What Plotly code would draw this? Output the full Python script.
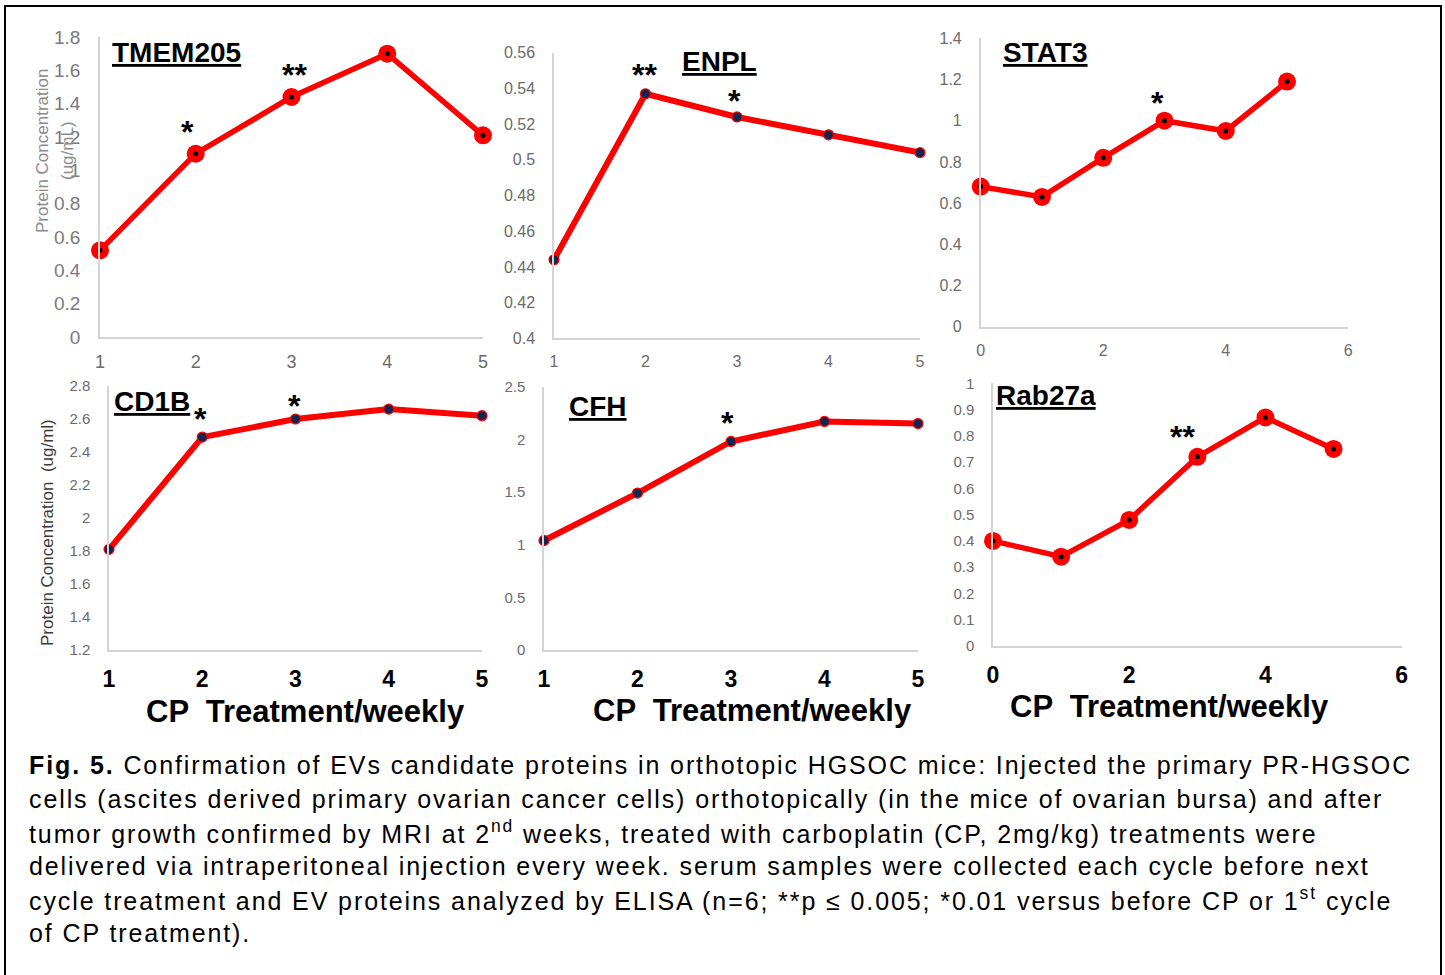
import plotly.graph_objects as go

W, H = 1445, 975

# ---------------- data ----------------
weeks_1to5 = [1, 2, 3, 4, 5]
weeks_0to5 = [0, 1, 2, 3, 4, 5]

tmem205 = [0.52, 1.10, 1.44, 1.70, 1.21]
enpl = [0.444, 0.537, 0.524, 0.514, 0.504]
stat3 = [0.68, 0.63, 0.82, 1.00, 0.95, 1.19]
cd1b = [1.81, 2.49, 2.60, 2.66, 2.62]
cfh = [1.04, 1.49, 1.98, 2.17, 2.15]
rab27a = [0.40, 0.34, 0.48, 0.72, 0.87, 0.75]

panel_names = ["TMEM205", "ENPL", "STAT3", "CD1B", "CFH", "Rab27a"]
x_title = "CP  Treatment/weekly"

caption_lines = [
    "<b>Fig. 5.</b> Confirmation of EVs candidate proteins in orthotopic HGSOC mice: Injected the primary PR-HGSOC",
    "cells (ascites derived primary ovarian cancer cells) orthotopically (in the mice of ovarian bursa) and after",
    "tumor growth confirmed by MRI at 2<sup>nd</sup> weeks, treated with carboplatin (CP, 2mg/kg) treatments were",
    "delivered via intraperitoneal injection every week. serum samples were collected each cycle before next",
    "cycle treatment and EV proteins analyzed by ELISA (n=6; **p \u2264 0.005; *0.01 versus before CP or 1<sup>st</sup> cycle",
    "of CP treatment).",
]

# ---------------- helpers ----------------
def fx(px):
    return px / W

def fy(py):
    return 1 - py / H

FONT = "Liberation Sans, Arial, sans-serif"
RED = "#ff0000"
NAVY = "#14244f"
GREY = "#6b6b6b"
AXC = "#d4d4d4"

fig = go.Figure()

panels = [
    (weeks_1to5, tmem205, "big", (100, 483), (37, 337), [1, 5], [0, 1.8], 1, 0.2, 18, False, 19, "#7a7a7a"),
    (weeks_1to5, enpl, "navy", (554, 920), (52.7, 338.3), [1, 5], [0.4, 0.56], 1, 0.02, 16, False, 16, GREY),
    (weeks_0to5, stat3, "big", (980.7, 1348.3), (38.3, 326.7), [0, 6], [0, 1.4], 2, 0.2, 16, False, 16, GREY),
    (weeks_1to5, cd1b, "navy", (109, 482), (386, 650), [1, 5], [1.2, 2.8], 1, 0.2, 23, True, 15, GREY),
    (weeks_1to5, cfh, "navy", (544, 918), (386.7, 650), [1, 5], [0, 2.5], 1, 0.5, 23, True, 15, GREY),
    (weeks_0to5, rab27a, "big", (993, 1401.7), (383.3, 646), [0, 6], [0, 1], 2, 0.1, 23, True, 15, GREY),
]

layout_axes = {}
for i, (xs, ys, style, xd, yd, xr, yr, dx, dy, xfs, xbold, yfs, ycol) in enumerate(panels, start=1):
    xa = "x" if i == 1 else f"x{i}"
    ya = "y" if i == 1 else f"y{i}"
    if style == "big":
        fig.add_trace(go.Scatter(
            x=xs, y=ys, xaxis=xa, yaxis=ya, mode="lines+markers",
            line=dict(color=RED, width=5.5),
            marker=dict(size=18, color=RED),
            cliponaxis=False, showlegend=False))
        fig.add_trace(go.Scatter(
            x=xs, y=ys, xaxis=xa, yaxis=ya, mode="markers",
            marker=dict(size=5, color="black"),
            cliponaxis=False, showlegend=False))
    else:
        fig.add_trace(go.Scatter(
            x=xs, y=ys, xaxis=xa, yaxis=ya, mode="lines+markers",
            line=dict(color=RED, width=6),
            marker=dict(size=10, color=NAVY, line=dict(color=RED, width=1.2)),
            cliponaxis=False, showlegend=False))

    xkey = "xaxis" if i == 1 else f"xaxis{i}"
    ykey = "yaxis" if i == 1 else f"yaxis{i}"
    layout_axes[xkey] = dict(
        domain=[fx(xd[0]), fx(xd[1])], range=xr, dtick=dx, tick0=0,
        anchor=ya, showgrid=False, zeroline=False, showline=True,
        linecolor=AXC, linewidth=1.5, ticks="", automargin=False,
        tickfont=dict(family=FONT, size=xfs,
                      color="black" if xbold else GREY,
                      weight="bold" if xbold else "normal"),
        ticklabelstandoff=8, fixedrange=True)
    layout_axes[ykey] = dict(
        domain=[fy(yd[1]), fy(yd[0])], range=yr, dtick=dy, tick0=0,
        anchor=xa, showgrid=False, zeroline=False, showline=True,
        linecolor=AXC, linewidth=1.5, ticks="", automargin=False,
        tickfont=dict(family=FONT, size=yfs, color=ycol),
        ticklabelstandoff=14, fixedrange=True)

fig.update_layout(**layout_axes)

annotations = []

def ann(text, px, py, size, color="black", bold=False, angle=0, xanchor="center", yanchor="middle"):
    annotations.append(dict(
        text=text, x=fx(px), y=fy(py), xref="paper", yref="paper",
        showarrow=False, textangle=angle, xanchor=xanchor, yanchor=yanchor,
        font=dict(family=FONT, size=size, color=color, weight="bold" if bold else "normal")))

# panel titles (bold underlined)
title_pos = [(176.7, 52), (719, 62), (1045.7, 52.5), (151.7, 402), (598, 406), (1046, 395)]
for name, (px, py) in zip(panel_names, title_pos):
    ann(f"<u>{name}</u>", px, py, 28, bold=True)

# significance stars
stars = [("*", 187, 132), ("**", 294, 75), ("**", 644, 75), ("*", 734, 101),
         ("*", 1157, 103), ("*", 200, 419), ("*", 294, 406), ("*", 728, 423), ("**", 1182, 437)]
for s, px, py in stars:
    ann(s, px, py, 32, bold=True)

# y-axis titles
ann("Protein Concentration", 43, 151, 17, color="#8a8a8a", angle=-90)
ann("(ug/mL)", 68, 151, 17, color="#8a8a8a", angle=-90)
ann("Protein Concentration  (ug/ml)", 47, 533, 17, color="#3a3a3a", angle=-90)

# x-axis titles
for px, py in [(305, 711.7), (752, 710), (1169.5, 706.7)]:
    ann(x_title, px, py, 31, bold=True)

# caption
cap_y = [765, 798.5, 832, 865.5, 899, 933]
for line, py in zip(caption_lines, cap_y):
    ann(f'<span style="letter-spacing:1.9px">{line}</span>', 27, py, 25, xanchor="left")

fig.update_layout(
    width=W, height=H, margin=dict(l=0, r=0, t=0, b=0, pad=0, autoexpand=False),
    paper_bgcolor="white", plot_bgcolor="white",
    annotations=annotations,
    shapes=[dict(type="rect", xref="paper", yref="paper",
                 x0=fx(5), x1=fx(1441), y0=fy(990), y1=fy(6),
                 line=dict(color="black", width=2))],
    showlegend=False,
)

fig.write_html("out.html", config={"displayModeBar": False},
               post_script="document.body.style.margin='0px';document.body.style.overflow='hidden';")
